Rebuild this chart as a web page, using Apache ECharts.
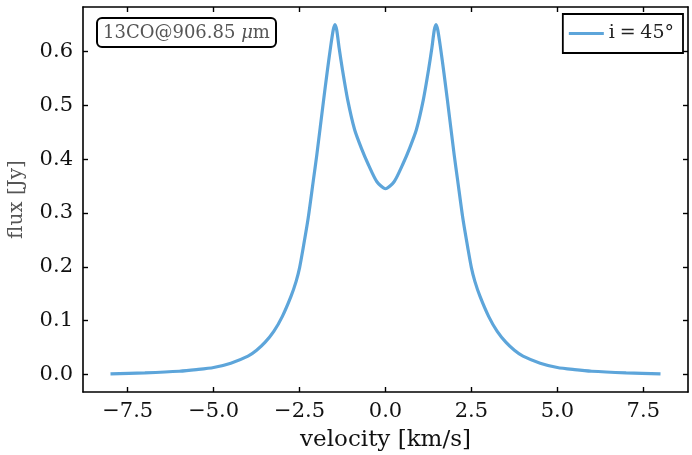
<!DOCTYPE html>
<html>
<head>
<meta charset="utf-8">
<script src="https://cdn.jsdelivr.net/npm/echarts@6/dist/echarts.min.js"></script>
<style>html,body{margin:0;padding:0;background:#fff;}#c{width:692px;height:455px;}</style>
</head>
<body>
<div id="c"></div>
<script>
var velocity = [-8, -7, -6, -5.5, -5, -4.5, -4, -3.75, -3.5, -3.25, -3, -2.75, -2.6, -2.5, -2.4, -2.25, -2.1, -2, -1.8, -1.7, -1.6, -1.52, -1.47, -1.42, -1.35, -1.25, -1.1, -0.9, -0.7, -0.5, -0.25, 0,
                0.25, 0.5, 0.7, 0.9, 1.1, 1.25, 1.35, 1.42, 1.47, 1.52, 1.6, 1.7, 1.8, 2, 2.1, 2.25, 2.4, 2.5, 2.6, 2.75, 3, 3.25, 3.5, 3.75, 4, 4.5, 5, 5.5, 6, 7, 8];
var flux = [0.001, 0.003, 0.006, 0.009, 0.013, 0.021, 0.034, 0.045, 0.06, 0.08, 0.108, 0.145, 0.173, 0.198, 0.233, 0.29, 0.36, 0.407, 0.51, 0.56, 0.607, 0.64, 0.65, 0.64, 0.607, 0.565, 0.51, 0.455, 0.42, 0.39, 0.358, 0.345,
            0.358, 0.39, 0.42, 0.455, 0.51, 0.565, 0.607, 0.64, 0.65, 0.64, 0.607, 0.56, 0.51, 0.407, 0.36, 0.29, 0.233, 0.198, 0.173, 0.145, 0.108, 0.08, 0.06, 0.045, 0.034, 0.021, 0.013, 0.009, 0.006, 0.003, 0.001];
var xTicks = [-7.5, -5, -2.5, 0, 2.5, 5, 7.5];
var yTicks = [0, 0.1, 0.2, 0.3, 0.4, 0.5, 0.6];
var seriesName = 'i\u2005=\u200545°';

var FONT = 'DejaVu Serif';
function fmtX(v){ var s = Math.abs(v).toFixed(1); return (v < 0 ? '\u2212' : '') + s; }
function fmtY(v){ return v.toFixed(1); }

var chart = echarts.init(document.getElementById('c'), null, {renderer: 'canvas'});
var axisLine = {show: true, onZero: false, lineStyle: {color: '#000', width: 1.6}};
var tick = function(vals){ return {show: true, inside: true, length: 5, lineStyle: {color: '#000', width: 1.4}, customValues: vals}; };

chart.setOption({
  backgroundColor: '#fff',
  animation: false,
  title: {
    left: 97, top: 18,
    text: '13CO@906.85 {mu|μ}m',
    padding: [6, 6, 5, 6],
    borderColor: '#000', borderWidth: 2, borderRadius: 5,
    textStyle: {fontFamily: FONT, fontSize: 18, fontWeight: 'normal', color: '#555',
      rich: {mu: {fontFamily: FONT, fontStyle: 'italic', fontSize: 18, color: '#555'}}}
  },
  legend: {
    right: 9, top: 14,
    padding: [10, 9, 10, 6],
    borderColor: '#000', borderWidth: 1.8, borderRadius: 0,
    itemWidth: 35, itemHeight: 12, itemGap: 5,
    textStyle: {fontFamily: FONT, fontSize: 19, color: '#222'},
    data: [{name: seriesName, icon: 'path://M0,4.4L35,4.4L35,7.6L0,7.6Z'}]
  },
  grid: {left: 83, right: 4, top: 7, bottom: 63, containLabel: false, outerBoundsMode: 'none'},
  xAxis: [{
    type: 'value', min: -8.8, max: 8.8, position: 'bottom',
    axisLine: axisLine, splitLine: {show: false},
    axisTick: tick(xTicks),
    axisLabel: {customValues: xTicks, formatter: fmtX, fontFamily: FONT, fontSize: 21, color: '#111', margin: 9},
    name: 'velocity [km/s]', nameLocation: 'middle', nameGap: 37,
    nameTextStyle: {fontFamily: FONT, fontSize: 23, color: '#111'}
  }, {
    type: 'value', min: -8.8, max: 8.8, position: 'top',
    axisLine: axisLine, splitLine: {show: false},
    axisTick: tick(xTicks), axisLabel: {show: false}
  }],
  yAxis: [{
    type: 'value', min: -0.0325, max: 0.6825, position: 'left',
    axisLine: axisLine, splitLine: {show: false},
    axisTick: tick(yTicks),
    axisLabel: {customValues: yTicks, formatter: fmtY, fontFamily: FONT, fontSize: 21, color: '#111', margin: 10},
    name: 'flux [Jy]', nameLocation: 'middle', nameGap: 56, nameRotate: 90,
    nameTextStyle: {fontFamily: FONT, fontSize: 20, color: '#555'}
  }, {
    type: 'value', min: -0.0325, max: 0.6825, position: 'right',
    axisLine: axisLine, splitLine: {show: false},
    axisTick: tick(yTicks), axisLabel: {show: false}
  }],
  series: [{
    name: seriesName, type: 'line', xAxisIndex: 0, yAxisIndex: 0,
    data: velocity.map(function(v, i){ return [v, flux[i]]; }),
    showSymbol: false, symbol: 'none', smooth: 0.25,
    lineStyle: {color: '#5DA5DA', width: 3.2},
    itemStyle: {color: '#5DA5DA'}
  }]
});
</script>
</body>
</html>
